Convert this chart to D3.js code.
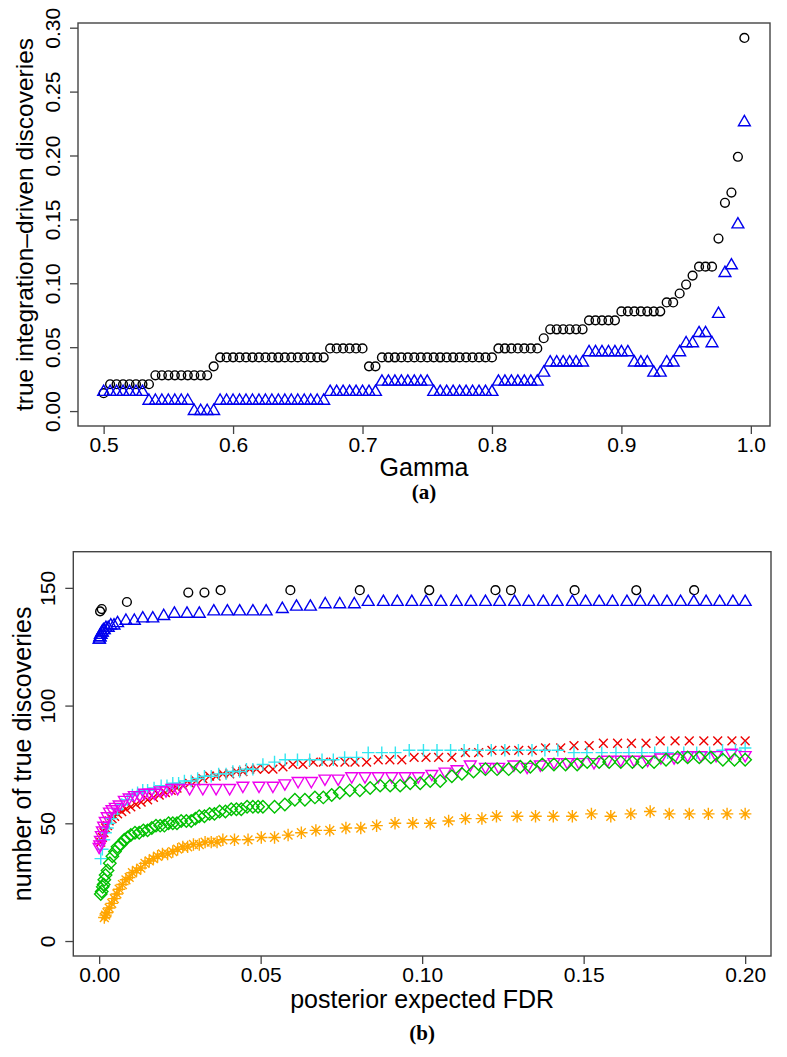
<!DOCTYPE html>
<html><head><meta charset="utf-8">
<script src="https://cdn.jsdelivr.net/npm/d3@7"></script>
<style>body{margin:0;background:#fff}svg{display:block}</style>
</head><body>
<script>
// ---------- Panel (a) data ----------
const gammaA = [
0.500,0.505,0.510,0.515,0.520,0.525,0.530,0.535,0.540,0.545,
0.550,0.555,0.560,0.565,0.570,0.575,0.580,0.585,0.590,0.595,
0.600,0.605,0.610,0.615,0.620,0.625,0.630,0.635,0.640,0.645,
0.650,0.655,0.660,0.665,0.670,0.675,0.680,0.685,0.690,0.695,
0.700,0.705,0.710,0.715,0.720,0.725,0.730,0.735,0.740,0.745,
0.750,0.755,0.760,0.765,0.770,0.775,0.780,0.785,0.790,0.795,
0.800,0.805,0.810,0.815,0.820,0.825,0.830,0.835,0.840,0.845,
0.850,0.855,0.860,0.865,0.870,0.875,0.880,0.885,0.890,0.895,
0.900,0.905,0.910,0.915,0.920,0.925,0.930,0.935,0.940,0.945,
0.950,0.955,0.960,0.965,0.970,0.975,0.980,0.985,0.990,0.995];
const circlesA = [
0.014,0.021,0.021,0.021,0.021,0.021,0.021,0.021,0.028,0.028,
0.028,0.028,0.028,0.028,0.028,0.028,0.028,0.035,0.042,0.042,
0.042,0.042,0.042,0.042,0.042,0.042,0.042,0.042,0.042,0.042,
0.042,0.042,0.042,0.042,0.042,0.049,0.049,0.049,0.049,0.049,
0.049,0.035,0.035,0.042,0.042,0.042,0.042,0.042,0.042,0.042,
0.042,0.042,0.042,0.042,0.042,0.042,0.042,0.042,0.042,0.042,
0.042,0.049,0.049,0.049,0.049,0.049,0.049,0.049,0.057,0.064,
0.064,0.064,0.064,0.064,0.064,0.071,0.071,0.071,0.071,0.071,
0.078,0.078,0.078,0.078,0.078,0.078,0.078,0.085,0.085,0.092,
0.099,0.106,0.113,0.113,0.113,0.135,0.163,0.171,0.199,0.292];
const trianglesA = [
0.015,0.015,0.015,0.015,0.015,0.015,0.015,0.008,0.008,0.008,
0.008,0.008,0.008,0.008,0.000,0.000,0.000,0.000,0.008,0.008,
0.008,0.008,0.008,0.008,0.008,0.008,0.008,0.008,0.008,0.008,
0.008,0.008,0.008,0.008,0.008,0.015,0.015,0.015,0.015,0.015,
0.015,0.015,0.015,0.023,0.023,0.023,0.023,0.023,0.023,0.023,
0.023,0.015,0.015,0.015,0.015,0.015,0.015,0.015,0.015,0.015,
0.015,0.023,0.023,0.023,0.023,0.023,0.023,0.023,0.030,0.038,
0.038,0.038,0.038,0.038,0.038,0.046,0.046,0.046,0.046,0.046,
0.046,0.046,0.038,0.038,0.038,0.030,0.030,0.038,0.038,0.046,
0.053,0.053,0.061,0.061,0.053,0.076,0.108,0.114,0.146,0.226];
const xTicksA = [0.5,0.6,0.7,0.8,0.9,1.0];
const yTicksA = [0.00,0.05,0.10,0.15,0.20,0.25,0.30];

// ---------- Panel (b) data ----------
const circlesBx = [0.0003,0.0008,0.0086,0.0276,0.0326,0.0376,0.0592,0.0807,0.1022,0.1227,0.1275,0.1472,0.1663,0.1842];
const circlesBy = [140,141,144,148,148,149,149,149,149,149,149,149,149,149];

const trianglesBx = [0,0.0001,0.0002,0.0003,0.0004,0.0006,0.0008,0.001,0.0013,0.0016,0.0021,0.0028,0.0036,0.0046,0.0057,
0.0083,0.0109,0.0135,0.0166,0.02,0.0233,0.0272,0.031,0.0355,0.0397,0.0435,0.0476,0.0517,
0.0567,0.0611,0.0654,0.07,0.0745,0.079,0.0833,0.088,0.0923,0.0968,0.1012,
0.1058,0.1106,0.1151,0.1196,0.124,0.1286,0.133,0.1375,0.1418,0.1465,0.1506,0.1548,0.1589,0.1634,0.1675,0.1717,0.1758,0.18,0.1841,0.1879,0.1921,0.1962,0.2];
const trianglesBy = [128,128,129,129,130,130,131,131,132,132,133,133,134,134,135,
136,136,137,137,138,139,139,139,140,140,140,140,140,
141,142,142,143,143,143,144,144,144,144,144,
144,144,144,144,144,144,144,144,144,144,144,144,144,144,144,144,144,144,144,144,144,144,144];

const redBx = [0.0005,0.001,0.0015,0.002,0.0026,0.0031,0.004,0.0048,0.0057,0.007,0.0083,0.0098,
0.0114,0.013,0.015,0.0168,0.0186,0.0205,0.0223,0.0241,0.0259,0.028,0.03,0.0321,0.0342,0.0362,0.0383,0.0404,0.0425,0.0445,0.0466,0.0487,
0.0512,0.0538,0.0569,0.06,0.0631,0.0663,0.0694,0.0725,0.0761,0.0792,0.0828,0.0864,0.09,0.0937,0.0975,0.1012,0.1051,0.1092,
0.1134,0.1175,0.1216,0.1258,0.1299,0.1341,0.1382,0.1429,0.147,0.1517,0.1561,0.1605,0.1648,0.1693,0.1737,0.1783,0.1827,0.1872,0.1915,0.1959,0.2];
const redBy = [42,44,46,48,49,51,52,53,54,55,56,57,
58,59,60,61,62,63,64,65,66,67,68,69,70,70,71,71,72,72,73,73,
73,73,74,75,75,76,76,76,76,76,76,77,77,77,78,78,78,78,
80,80,81,81,81,81,82,82,83,83,84,84,84,84,85,85,85,85,85,85,85];

const cyanBx = [0.0005,0.001,0.0015,0.002,0.0026,0.0031,0.0038,0.0045,0.0057,0.007,0.0088,
0.0103,0.0119,0.0135,0.015,0.017,0.0192,0.021,0.0228,0.0246,0.0264,0.0285,0.0305,0.0326,0.0347,0.037,0.0393,0.0414,0.0435,0.0456,0.0476,
0.0507,0.0543,0.0576,0.0614,0.0652,0.069,0.0725,0.076,0.0797,0.0833,0.0875,0.0917,0.096,0.1004,
0.1046,0.1088,0.113,0.1172,0.1214,0.1256,0.1298,0.134,0.138,0.142,0.147,0.151,0.1556,0.16,0.164,0.168,0.172,0.176,0.181,0.185,0.189,0.193,0.197,0.2];
const cyanBy = [35,39,43,46,48,50,52,54,56,58,60,
62,63,64,64,65,66,66,67,67,68,68,69,70,70,71,71,72,72,73,73,
75,76,77,77,77,77,77,78,78,80,80,80,81,81,
81,81,81,81,81,81,81,81,81,81,80,80,80,80,80,80,80,80,80,80,80,81,81,82];

const magentaBx = [0,0.0002,0.0004,0.0007,0.001,0.0014,0.0019,0.0025,0.0032,0.004,0.005,0.0062,0.0078,0.0093,0.0109,
0.0125,0.014,0.0156,0.0171,0.0189,0.0207,0.0225,0.0243,0.028,0.0321,0.0362,0.0404,0.0445,0.0495,
0.0538,0.0575,0.0616,0.0657,0.0699,0.074,0.0782,0.0823,0.0864,0.0906,0.0947,0.0988,
0.103,0.1071,0.1108,0.1149,0.1196,0.1237,0.1284,0.1325,0.1366,0.1408,0.1449,0.1485,0.1532,0.1574,0.1615,0.1656,0.1698,0.1739,0.178,0.1822,0.1863,0.191,0.1957,0.2];
const magentaBy = [40,41,43,45,47,49,51,53,55,56,57,58,60,61,62,
62,63,63,63,64,64,65,65,65,65,65,65,66,66,
66,67,68,68,69,69,70,70,70,70,70,70,
71,72,73,75,74,74,75,74,75,76,76,76,76,77,77,77,77,78,78,79,79,79,80,79];

const greenBx = [0.0005,0.0008,0.0011,0.0014,0.0016,0.002,0.0026,0.0033,0.0041,0.0049,0.0057,0.0067,0.0078,0.0088,0.0098,
0.0111,0.0124,0.0137,0.015,0.0163,0.0176,0.0189,0.0202,0.0215,0.0228,0.0241,0.0254,0.027,0.0285,0.0298,0.031,0.0326,0.0342,0.0357,0.0373,0.0391,0.0409,0.0425,0.044,0.0458,0.0476,0.0492,0.0507,
0.0543,0.0575,0.0606,0.0637,0.0668,0.0694,0.072,0.0745,0.0776,0.0807,0.0839,0.087,0.0901,0.0932,0.0963,0.0994,0.1025,0.1056,
0.1092,0.1123,0.1159,0.1196,0.1232,0.1268,0.1304,0.1335,0.1372,0.1408,0.1444,0.148,0.1511,0.1548,0.1579,0.1615,0.1651,0.1682,0.1718,0.1755,0.1791,0.1822,0.1858,0.1894,0.1931,0.1967,0.2];
const greenBy = [20,21,23,24,26,28,30,33,36,38,40,41,43,44,45,
46,46,47,47,48,49,49,49,50,50,50,51,51,51,52,53,53,54,54,55,55,56,56,56,57,57,57,57,
57,58,60,60,61,61,62,63,64,64,65,66,66,66,67,67,68,68,
70,71,72,73,73,73,74,74,75,75,75,75,76,76,76,76,76,76,76,77,78,78,78,78,77,77,77];

const orangeBx = [0.0016,0.002,0.0024,0.0031,0.0039,0.0047,0.0055,0.0062,0.0072,0.0083,0.0093,0.0103,
0.0116,0.0129,0.0142,0.0155,0.0168,0.0181,0.0196,0.0212,0.0228,0.0243,0.0259,0.0274,0.0292,0.031,0.0328,0.0347,0.0365,0.0383,
0.0419,0.0461,0.0502,0.0543,0.0585,0.0626,0.0671,0.0714,0.0764,0.081,0.0859,0.0916,0.0971,0.1025,0.1082,
0.1134,0.1185,0.123,0.1294,0.1351,0.1406,0.1465,0.1524,0.1584,0.1646,0.1706,0.1765,0.1827,0.1886,0.1944,0.2];
const orangeBy = [10,11,12,14,16,18,20,22,24,26,27,29,
30,31,33,34,35,36,37,37,38,39,40,40,41,41,42,42,42,43,
43,43,44,44,45,46,47,47,48,48,49,50,50,50,51,
52,52,53,53,53,53,53,54,53,54,55,54,54,54,54,54];

const xTicksB = [0,0.05,0.10,0.15,0.20];
const yTicksB = [0,50,100,150];
const yLimB = [0,159];

// ---------- drawing ----------
const W = 787, H = 1057;
const FONT = "'Liberation Sans', Arial, Helvetica, sans-serif";
const svg = d3.select("body").append("svg").attr("width", W).attr("height", H)
  .attr("font-family", FONT);
svg.append("rect").attr("width", W).attr("height", H).attr("fill", "#fff");

function rExpand(ext){ const d = (ext[1]-ext[0])*0.04; return [ext[0]-d, ext[1]+d]; }

const S = 4.4; // R symbol radius in px
const shapes = {
  circle: (x,y)=>{ const p=d3.path(); p.moveTo(x+S,y); p.arc(x,y,S,0,2*Math.PI); return p.toString(); },
  triUp: (x,y)=>`M${x},${y-1.555*S}L${x+1.347*S},${y+0.778*S}L${x-1.347*S},${y+0.778*S}Z`,
  triDown: (x,y)=>`M${x},${y+1.555*S}L${x+1.347*S},${y-0.778*S}L${x-1.347*S},${y-0.778*S}Z`,
  plus: (x,y)=>{ const a=1.414*S; return `M${x-a},${y}H${x+a}M${x},${y-a}V${y+a}`; },
  cross: (x,y)=>{ const a=S; return `M${x-a},${y-a}L${x+a},${y+a}M${x-a},${y+a}L${x+a},${y-a}`; },
  diamond: (x,y)=>{ const a=1.414*S; return `M${x-a},${y}L${x},${y-a}L${x+a},${y}L${x},${y+a}Z`; },
  star: (x,y)=>{ const a=S, b=1.414*S; return `M${x-a},${y-a}L${x+a},${y+a}M${x-a},${y+a}L${x+a},${y-a}M${x-b},${y}H${x+b}M${x},${y-b}V${y+b}`; }
};

function drawSeries(g, xs, ys, xScale, yScale, shape, color){
  const pts = xs.map((x,i)=>({x, y: ys[i]}));
  g.append("g").selectAll("path").data(pts).join("path")
    .attr("d", d => shapes[shape](xScale(d.x), yScale(d.y)))
    .attr("fill", "none").attr("stroke", color).attr("stroke-width", 1.4);
}

function drawFrame(box, xScale, yScale, xTicks, yTicks, xFmt, yFmt){
  const g = svg.append("g");
  g.append("rect").attr("x", box.l).attr("y", box.t)
    .attr("width", box.r-box.l).attr("height", box.b-box.t)
    .attr("fill", "none").attr("stroke", "#444").attr("stroke-width", 1.4);
  const xa = g.append("g").attr("transform", `translate(0,${box.b})`)
    .call(d3.axisBottom(xScale).tickValues(xTicks).tickFormat(xFmt).tickSize(8).tickPadding(3));
  const ya = g.append("g").attr("transform", `translate(${box.l},0)`)
    .call(d3.axisLeft(yScale).tickValues(yTicks).tickFormat(yFmt).tickSize(8));
  [xa, ya].forEach(a => {
    a.select(".domain").remove();
    a.selectAll("line").attr("stroke", "#444").attr("stroke-width", 1.3);
    a.selectAll("text").attr("font-size", 21).attr("fill", "#000").attr("font-family", FONT);
  });
  ya.selectAll("text")
    .attr("x", 0).attr("y", -18).attr("dy", null)
    .attr("text-anchor", "middle").attr("transform", "rotate(-90)");
}

// Panel (a)
const boxA = {l:78, r:770, t:23, b:426};
const xA = d3.scaleLinear().domain(rExpand(d3.extent(gammaA))).range([boxA.l, boxA.r]);
const yA = d3.scaleLinear().domain(rExpand(d3.extent(circlesA.concat(trianglesA)))).range([boxA.b, boxA.t]);
drawFrame(boxA, xA, yA, xTicksA, yTicksA, d3.format(".1f"), d3.format(".2f"));
const gA = svg.append("g");
drawSeries(gA, gammaA, circlesA, xA, yA, "circle", "#000");
drawSeries(gA, gammaA, trianglesA, xA, yA, "triUp", "#0000ee");

svg.append("text").attr("x", (boxA.l+boxA.r)/2).attr("y", 476).attr("text-anchor","middle")
  .attr("font-size", 25).text("Gamma");
svg.append("text").attr("transform", `translate(33,${(boxA.t+boxA.b)/2}) rotate(-90)`)
  .attr("text-anchor","middle").attr("font-size", 24.5).text("true integration–driven discoveries");
svg.append("text").attr("x", (boxA.l+boxA.r)/2).attr("y", 499).attr("text-anchor","middle")
  .attr("font-family", "'Liberation Serif','Times New Roman',serif").attr("font-weight","bold")
  .attr("font-size", 21).text("(a)");

// Panel (b)
const boxB = {l:73.3, r:771, t:551.7, b:956};
const xB = d3.scaleLinear().domain(rExpand([0, d3.max(xTicksB)])).range([boxB.l, boxB.r]);
const yB = d3.scaleLinear().domain(rExpand(yLimB)).range([boxB.b, boxB.t]);
drawFrame(boxB, xB, yB, xTicksB, yTicksB, d3.format(".2f"), d3.format("d"));
const gB = svg.append("g");
drawSeries(gB, circlesBx, circlesBy, xB, yB, "circle", "#000");
drawSeries(gB, trianglesBx, trianglesBy, xB, yB, "triUp", "#0000ee");
drawSeries(gB, redBx, redBy, xB, yB, "cross", "#ee0000");
drawSeries(gB, cyanBx, cyanBy, xB, yB, "plus", "#33e6f0");
drawSeries(gB, magentaBx, magentaBy, xB, yB, "triDown", "#ee00ee");
drawSeries(gB, greenBx, greenBy, xB, yB, "diamond", "#00c000");
drawSeries(gB, orangeBx, orangeBy, xB, yB, "star", "#ffa500");

svg.append("text").attr("x", (boxB.l+boxB.r)/2).attr("y", 1008).attr("text-anchor","middle")
  .attr("font-size", 25).text("posterior expected FDR");
svg.append("text").attr("transform", `translate(31,${(boxB.t+boxB.b)/2}) rotate(-90)`)
  .attr("text-anchor","middle").attr("font-size", 25).text("number of true discoveries");
svg.append("text").attr("x", (boxB.l+boxB.r)/2).attr("y", 1040).attr("text-anchor","middle")
  .attr("font-family", "'Liberation Serif','Times New Roman',serif").attr("font-weight","bold")
  .attr("font-size", 21).text("(b)");
</script>
</body></html>
